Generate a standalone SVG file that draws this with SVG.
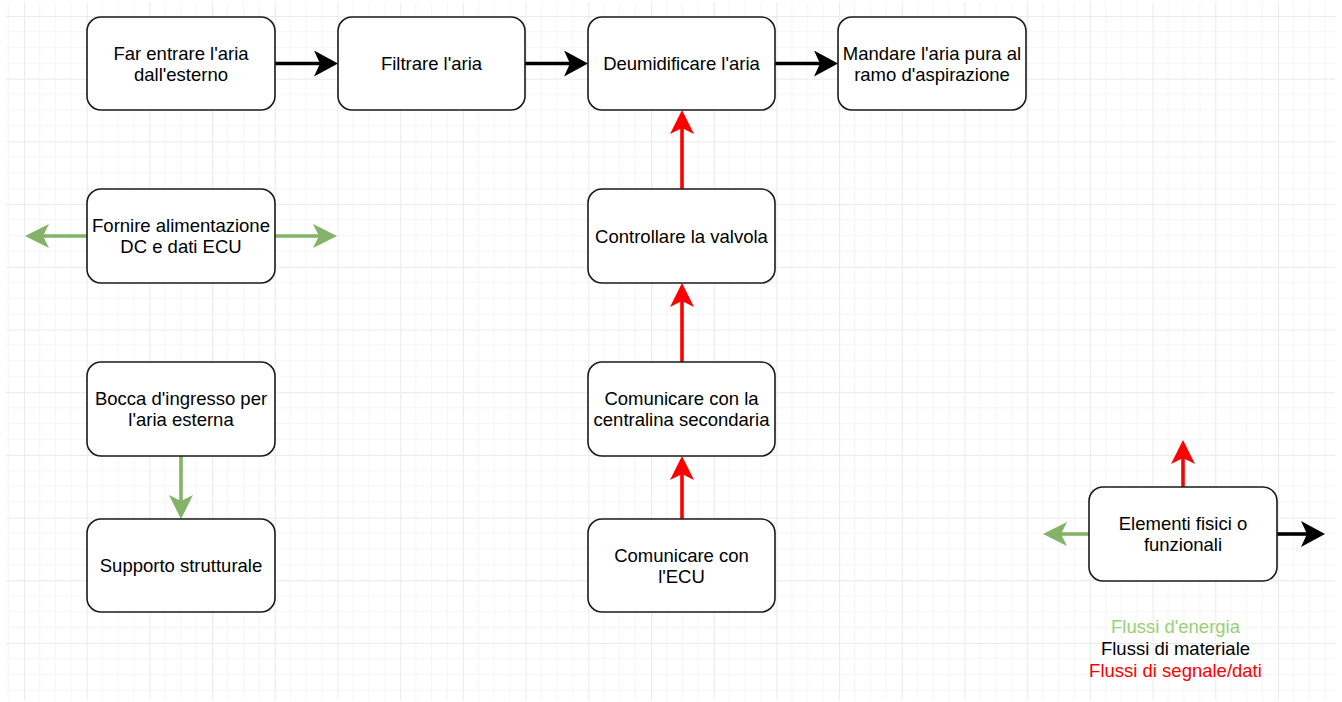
<svg xmlns="http://www.w3.org/2000/svg" width="1342" height="702" viewBox="0 0 1342 702">
<defs>
<pattern id="grid" patternUnits="userSpaceOnUse" x="24" y="16" width="62.7" height="62.7">
<path d="M15.675,0V62.7M31.35,0V62.7M47.025,0V62.7M0,15.675H62.7M0,31.35H62.7M0,47.025H62.7" stroke="#f5f5f5" stroke-width="1" fill="none"/>
<path d="M0.5,0V62.7M0,0.5H62.7" stroke="#eaeaea" stroke-width="1" fill="none"/>
</pattern>
<marker id="ab" markerUnits="userSpaceOnUse" markerWidth="24" markerHeight="26" viewBox="0 0 24 26" refX="6" refY="13" orient="auto"><path d="M0,0L24,13L0,26L6,13Z" fill="#000"/></marker>
<marker id="ag" markerUnits="userSpaceOnUse" markerWidth="24" markerHeight="24" viewBox="0 0 24 24" refX="6" refY="12" orient="auto"><path d="M0,0L24,12L0,24L6,12Z" fill="#82b366"/></marker>
<marker id="ar" markerUnits="userSpaceOnUse" markerWidth="24" markerHeight="24" viewBox="0 0 24 24" refX="6" refY="12" orient="auto"><path d="M0,0L24,12L0,24L6,12Z" fill="#ff0000"/></marker>
</defs>
<style>
.box{fill:#fff;stroke:#1a1a1a;stroke-width:1.6}
.t{font-family:"Liberation Sans",Arial,sans-serif;font-size:18.5px;fill:#000;text-anchor:middle}
.cb{stroke:#000;stroke-width:3.6;fill:none;marker-end:url(#ab)}
.cg{stroke:#82b366;stroke-width:3.6;fill:none;marker-end:url(#ag)}
.cr{stroke:#ff0000;stroke-width:3.6;fill:none;marker-end:url(#ar)}
</style>
<rect x="0" y="0" width="1342" height="702" fill="#fff"/>
<rect x="6" y="2" width="1329" height="698" fill="url(#grid)"/>

<g id="connectors">
<path class="cb" d="M275,63.5H320"/>
<path class="cb" d="M525,63.5H570"/>
<path class="cb" d="M775,63.5H820"/>
<path class="cb" d="M1277,534H1307"/>
<path class="cg" d="M87,236H43"/>
<path class="cg" d="M275,236H319"/>
<path class="cg" d="M181,456V501"/>
<path class="cg" d="M1089,534H1061"/>
<path class="cr" d="M682,519V474"/>
<path class="cr" d="M682,362V301"/>
<path class="cr" d="M682,189V128"/>
<path class="cr" d="M1183,487V458"/>
</g>

<g id="n1"><rect class="box" x="87" y="17" width="188" height="93" rx="14"/><text class="t" x="181" y="59.5">Far entrare l'aria</text><text class="t" x="181" y="80.5">dall'esterno</text></g>
<g id="n2"><rect class="box" x="338" y="17" width="187" height="93" rx="14"/><text class="t" x="431.5" y="70">Filtrare l'aria</text></g>
<g id="n3"><rect class="box" x="588" y="17" width="187" height="93" rx="14"/><text class="t" x="681.5" y="70">Deumidificare l'aria</text></g>
<g id="n4"><rect class="box" x="838" y="17" width="188" height="93" rx="14"/><text class="t" x="932" y="59.5">Mandare l'aria pura al</text><text class="t" x="932" y="80.5">ramo d'aspirazione</text></g>
<g id="n5"><rect class="box" x="87" y="189" width="188" height="94" rx="14"/><text class="t" x="181" y="232">Fornire alimentazione</text><text class="t" x="181" y="253">DC e dati ECU</text></g>
<g id="n6"><rect class="box" x="588" y="189" width="187" height="94" rx="14"/><text class="t" x="681.5" y="242.5">Controllare la valvola</text></g>
<g id="n7"><rect class="box" x="87" y="362" width="188" height="94" rx="14"/><text class="t" x="181" y="405">Bocca d'ingresso per</text><text class="t" x="181" y="426">l'aria esterna</text></g>
<g id="n8"><rect class="box" x="588" y="362" width="187" height="94" rx="14"/><text class="t" x="681.5" y="405">Comunicare con la</text><text class="t" x="681.5" y="426">centralina secondaria</text></g>
<g id="n9"><rect class="box" x="87" y="519" width="188" height="93" rx="14"/><text class="t" x="181" y="572">Supporto strutturale</text></g>
<g id="n10"><rect class="box" x="588" y="519" width="187" height="93" rx="14"/><text class="t" x="681.5" y="561.5">Comunicare con</text><text class="t" x="681.5" y="582.5">l'ECU</text></g>
<g id="n11"><rect class="box" x="1089" y="487" width="188" height="94" rx="14"/><text class="t" x="1183" y="530">Elementi fisici o</text><text class="t" x="1183" y="551">funzionali</text></g>
<g id="legend">
<text class="t" x="1175.5" y="633" style="fill:#97d077">Flussi d'energia</text>
<text class="t" x="1175.5" y="655">Flussi di materiale</text>
<text class="t" x="1175.5" y="677" style="fill:#ff0000">Flussi di segnale/dati</text>
</g>
</svg>
